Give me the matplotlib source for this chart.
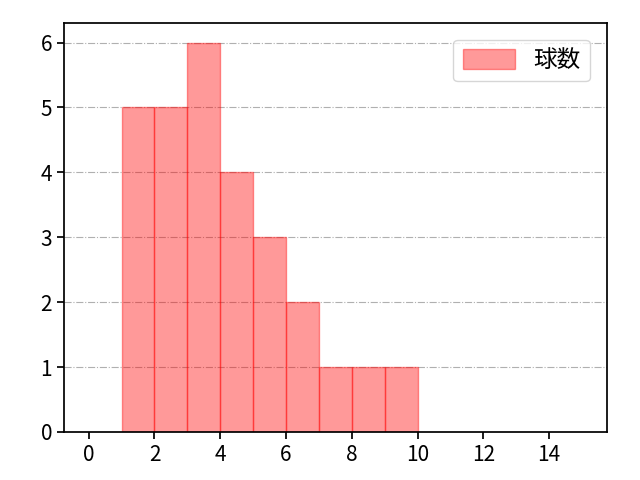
import matplotlib
matplotlib.use("Agg")
import matplotlib.pyplot as plt

plt.rcParams['font.family'] = ['Noto Sans CJK JP', 'DejaVu Sans']

bin_edges = [1, 2, 3, 4, 5, 6, 7, 8, 9, 10]
counts = [5, 5, 6, 4, 3, 2, 1, 1, 1]
label = "球数"

fig, ax = plt.subplots(figsize=(6.4, 4.8), dpi=100)
fig.subplots_adjust(left=0.1, right=0.948, top=0.952, bottom=0.1)
lefts = bin_edges[:-1]
widths = [b - a for a, b in zip(bin_edges[:-1], bin_edges[1:])]
ax.bar(lefts, counts, width=widths, align='edge', color='red', alpha=0.4,
       edgecolor='red', linewidth=1, label=label)
ax.set_xlim(-0.75, 15.75)
ax.set_ylim(0, 6.3)
ax.set_xticks(range(0, 16, 2))
ax.set_yticks(range(0, 7))
ax.grid(axis='y', linestyle='-.', color='#b0b0b0', linewidth=0.8)
ax.set_axisbelow(True)
for s in ax.spines.values():
    s.set_linewidth(1.25)
ax.tick_params(labelsize=15, width=1.25, length=5)
ax.legend(loc='upper right', fontsize=17, borderaxespad=0.7,
          handlelength=2.2, handleheight=0.9)
fig.savefig("out.png", dpi=100)
